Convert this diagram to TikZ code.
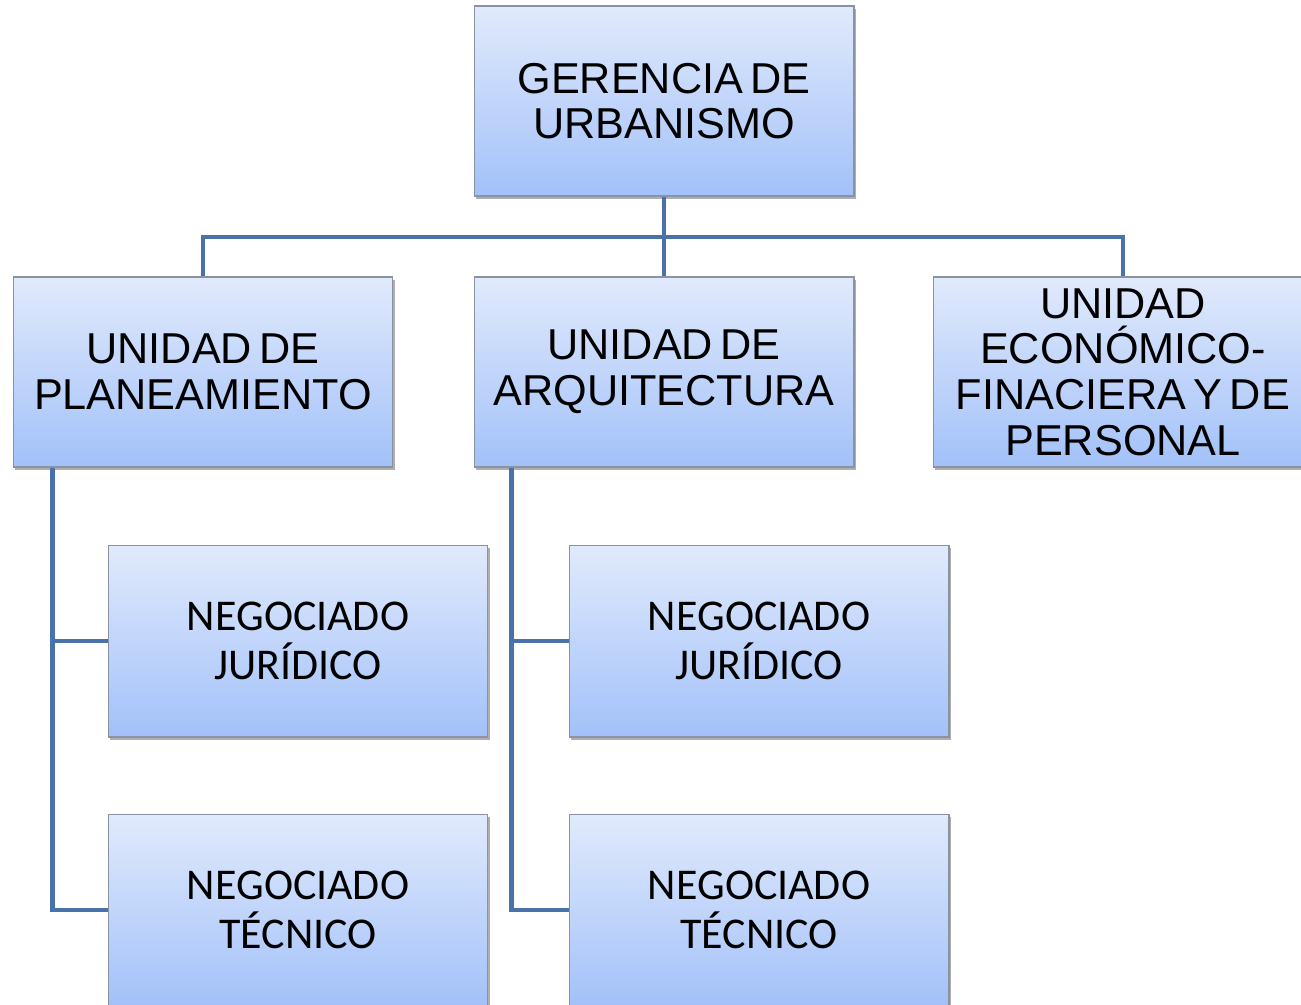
\documentclass[tikz,border=0pt]{standalone}
\usepackage{fontspec}
\setmainfont{Liberation Sans}
\newfontfamily\calibri{Carlito}
\usetikzlibrary{positioning, shadows}
\definecolor{BoxTop}{HTML}{E1EAFC}
\definecolor{BoxBottom}{HTML}{A2C1F9}
\definecolor{BoxEdge}{HTML}{8A93A4}
\definecolor{LineBlue}{HTML}{4A72AA}

\begin{document}
\begin{tikzpicture}[
        x=0.02cm, y=-0.02cm,
        unidad/.style={
            rectangle, minimum width=7.6cm, minimum height=3.8cm, inner sep=0pt,
            draw=BoxEdge, line width=0.6pt, top color=BoxTop, bottom color=BoxBottom,
            drop shadow={shadow xshift=1pt, shadow yshift=-1.5pt, fill=black!45, opacity=0.7},
            text centered, text width=7.4cm,
            font=\fontsize{24.6}{26}\selectfont,
            execute at begin node={\spaceskip=0.17em\relax}
        },
        negociado/.style={
            unidad, minimum height=3.84cm,
            font=\calibri\fontsize{25}{27.5}\selectfont
        },
        linea/.style={line width=2.3pt, color=LineBlue}
    ]
    \useasboundingbox (0,0) rectangle (1301,1004);

    % Gerencia
    \node (gerencia) [unidad] at (664,101) {GERENCIA DE\\URBANISMO};

    % Unidades
    \node (plan) [unidad] at (203,372) {UNIDAD DE\\PLANEAMIENTO};
    \node (arq) [unidad] at (664,372) {UNIDAD DE\\ARQUITECTURA};
    \node (econ) [unidad, text width=7.2cm] at (1123,372) {UNIDAD\\ECONÓMICO-\\FINACIERA Y DE\\PERSONAL};

    % Negociados
    \node (jurP) [negociado] at (298,641) {NEGOCIADO\\JURÍDICO};
    \node (tecP) [negociado, below=1.52cm of jurP] {NEGOCIADO\\TÉCNICO};
    \node (jurA) [negociado] at (759,641) {NEGOCIADO\\JURÍDICO};
    \node (tecA) [negociado, below=1.52cm of jurA] {NEGOCIADO\\TÉCNICO};

    % Lines from gerencia
    \coordinate (bus) at (664,237);
    \draw [linea] (gerencia.south) -- (arq.north);
    \draw [linea] (plan.north) |- (bus) -| (econ.north);

    % Lines to negociados
    \coordinate (spineP) at ([xshift=0.8cm]plan.south west);
    \coordinate (spineA) at ([xshift=0.76cm]arq.south west);
    \draw [linea] (spineP) |- (jurP.west);
    \draw [linea] (spineP) |- (tecP.west);
    \draw [linea] (spineA) |- (jurA.west);
    \draw [linea] (spineA) |- (tecA.west);

\end{tikzpicture}
\end{document}
